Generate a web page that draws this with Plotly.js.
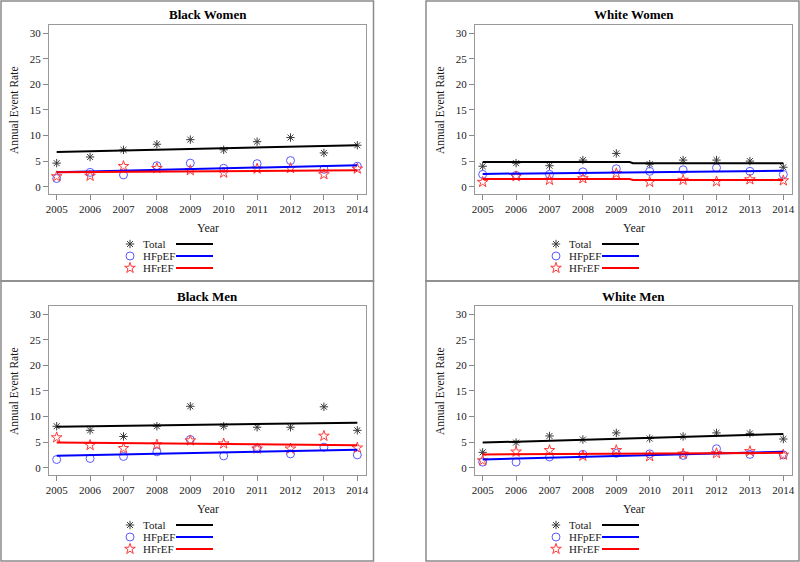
<!DOCTYPE html>
<html>
<head>
<meta charset="utf-8">
<script src="https://cdn.plot.ly/plotly-3.0.1.min.js"></script>
<style>html,body{margin:0;padding:0;background:#fff;}#chart{width:800px;height:562px;}</style>
</head>
<body>
<div id="chart"></div>
<script>
// ---- Data ----
const years = [2005, 2006, 2007, 2008, 2009, 2010, 2011, 2012, 2013, 2014];
const panelTitles = ["Black Women", "White Women", "Black Men", "White Men"];
const seriesNames = ["Total", "HFpEF", "HFrEF"];

const bwTotal = [4.6, 5.8, 7.2, 8.3, 9.2, 7.2, 8.8, 9.6, 6.6, 8.1];
const bwHFpEF = [1.6, 2.8, 2.3, 4.1, 4.6, 3.6, 4.5, 5.1, 3.4, 4.0];
const bwHFrEF = [2.0, 2.1, 4.0, 3.6, 3.2, 2.7, 3.5, 3.6, 2.4, 3.5];
const bwFitYears = [2005, 2014];
const bwTotalFit = [6.8, 8.1];
const bwHFpEFFit = [2.8, 4.2];
const bwHFrEFFit = [2.8, 3.2];

const wwTotal = [4.0, 4.6, 4.1, 5.2, 6.5, 4.4, 5.2, 5.2, 5.0, 3.8];
const wwHFpEF = [2.4, 2.2, 2.4, 2.9, 3.5, 3.0, 3.3, 3.7, 3.0, 2.4];
const wwHFrEF = [0.9, 2.0, 1.3, 1.6, 2.6, 0.9, 1.3, 1.0, 1.4, 1.2];
const wwFitYears = [2005, 2009.4, 2009.5, 2014];
const wwTotalFit = [4.8, 4.8, 4.6, 4.6];
const wwHFpEFFit = [2.5, 2.8, 2.8, 3.1];
const wwHFrEFFit = [1.5, 1.5, 1.3, 1.3];

const bmTotal = [8.1, 7.3, 6.1, 8.1, 12.0, 8.1, 7.9, 7.9, 11.9, 7.3];
const bmHFpEF = [1.6, 1.8, 2.2, 3.1, 5.5, 2.3, 3.7, 2.7, 4.0, 2.5];
const bmHFrEF = [5.9, 4.4, 3.8, 4.5, 5.3, 4.7, 3.7, 3.7, 6.2, 3.9];
const bmFitYears = [2005, 2014];
const bmTotalFit = [8.0, 8.8];
const bmHFpEFFit = [2.35, 3.5];
const bmHFrEFFit = [4.9, 4.4];

const wmTotal = [3.0, 4.9, 6.2, 5.5, 6.8, 5.7, 6.1, 6.8, 6.7, 5.6];
const wmHFpEF = [1.1, 1.1, 2.1, 2.6, 2.8, 2.7, 2.4, 3.7, 2.6, 2.5];
const wmHFrEF = [1.4, 3.1, 3.4, 2.3, 3.4, 2.2, 2.7, 2.8, 3.2, 2.5];
const wmFitYears = [2005, 2014];
const wmTotalFit = [4.9, 6.6];
const wmHFpEFFit = [1.6, 3.1];
const wmHFrEFFit = [2.6, 2.9];

const yTicks = [0, 5, 10, 15, 20, 25, 30];

// ---- Styles / layout ----
const W = 800, H = 562;
const FONT = "Liberation Serif, Times New Roman, serif";
const TXT = "#1a1a1a";
const markerStyles = [
  {symbol: "asterisk-open", size: 7, line: {color: "#3a3a3a", width: 1}, color: "#3a3a3a"},
  {symbol: "circle-open", size: 8, line: {color: "#5a5aff", width: 1}, color: "#5a5aff"},
  {symbol: "star-open", size: 8, line: {color: "#ff3a3a", width: 1}, color: "#ff3a3a"}
];
const lineColors = ["#000000", "#0000ff", "#ff0000"];

const panels = [
  {pts: [bwTotal, bwHFpEF, bwHFrEF], fx: bwFitYears, fits: [bwTotalFit, bwHFpEFFit, bwHFrEFFit], dx: 0, dy: 0},
  {pts: [wwTotal, wwHFpEF, wwHFrEF], fx: wwFitYears, fits: [wwTotalFit, wwHFpEFFit, wwHFrEFFit], dx: 426, dy: 0},
  {pts: [bmTotal, bmHFpEF, bmHFrEF], fx: bmFitYears, fits: [bmTotalFit, bmHFpEFFit, bmHFrEFFit], dx: 0, dy: 281},
  {pts: [wmTotal, wmHFpEF, wmHFrEF], fx: wmFitYears, fits: [wmTotalFit, wmHFpEFFit, wmHFrEFFit], dx: 426, dy: 281}
];

// frame of plot area (panel-local px)
const FL = 49, FR = 366, FT = 25, FB = 194;
const px = x => x / W;
const py = y => 1 - y / H;

const traces = [];
const layout = {
  width: W, height: H,
  margin: {l: 0, r: 0, t: 0, b: 0},
  paper_bgcolor: "#ffffff",
  plot_bgcolor: "rgba(0,0,0,0)",
  showlegend: false,
  font: {family: FONT, color: TXT, size: 11},
  annotations: [],
  shapes: []
};

panels.forEach((p, i) => {
  const n = i + 1;
  const xa = "xaxis" + (n === 1 ? "" : n), ya = "yaxis" + (n === 1 ? "" : n);
  const xr = "x" + (n === 1 ? "" : n), yr = "y" + (n === 1 ? "" : n);
  layout[xa] = {
    domain: [px(FL + p.dx), px(FR + p.dx)],
    anchor: yr,
    range: [2004.77, 2014.26],
    tickmode: "array", tickvals: years, ticktext: years.map(String),
    ticks: "outside", ticklen: 5, tickcolor: "#888", tickwidth: 1,
    showline: true, mirror: true, linecolor: "#999", linewidth: 1,
    showgrid: false, zeroline: false,
    tickfont: {family: FONT, size: 11, color: TXT}
  };
  layout[ya] = {
    domain: [py(FB + p.dy), py(FT + p.dy)],
    anchor: xr,
    range: [-1.43, 31.6],
    tickmode: "array", tickvals: yTicks,
    ticks: "outside", ticklen: 5, tickcolor: "#888", tickwidth: 1,
    showline: true, mirror: true, linecolor: "#999", linewidth: 1,
    showgrid: false, zeroline: false,
    tickfont: {family: FONT, size: 11, color: TXT}
  };
  // scatter markers
  p.pts.forEach((vals, s) => {
    traces.push({
      type: "scatter", mode: "markers", x: years, y: vals, xaxis: xr, yaxis: yr,
      name: seriesNames[s], marker: markerStyles[s], hoverinfo: "x+y+name"
    });
  });
  // fit lines
  p.fits.forEach((vals, s) => {
    traces.push({
      type: "scatter", mode: "lines", x: p.fx, y: vals, xaxis: xr, yaxis: yr,
      name: seriesNames[s] + " trend", line: {color: lineColors[s], width: 2}, hoverinfo: "skip"
    });
  });
  // title
  layout.annotations.push({
    text: "<b>" + panelTitles[i] + "</b>", xref: "paper", yref: "paper",
    x: px((FL + FR) / 2 + p.dx), y: py(15 + p.dy), xanchor: "center", yanchor: "middle",
    showarrow: false, font: {family: FONT, size: 13, color: "#000"}
  });
  // axis titles
  layout.annotations.push({
    text: "Annual Event Rate", xref: "paper", yref: "paper",
    x: px(14 + p.dx), y: py(110 + p.dy), xanchor: "center", yanchor: "middle",
    textangle: -90, showarrow: false, font: {family: FONT, size: 11.5, color: TXT}
  });
  layout.annotations.push({
    text: "Year", xref: "paper", yref: "paper",
    x: px((FL + FR) / 2 + p.dx), y: py(228 + p.dy), xanchor: "center", yanchor: "middle",
    showarrow: false, font: {family: FONT, size: 12, color: TXT}
  });
  // custom legend
  const rows = [244, 256, 268];
  seriesNames.forEach((nm, s) => {
    layout.annotations.push({
      text: nm, xref: "x5", yref: "y5",
      x: 141 + p.dx, y: rows[s] + p.dy, xanchor: "left", yanchor: "middle",
      showarrow: false, font: {family: FONT, size: 11, color: TXT}
    });
    layout.shapes.push({
      type: "line", xref: "x5", yref: "y5",
      x0: 176 + p.dx, x1: 213 + p.dx, y0: rows[s] + p.dy, y1: rows[s] + p.dy,
      line: {color: lineColors[s], width: 2}
    });
    traces.push({
      type: "scatter", mode: "markers", x: [130 + p.dx], y: [rows[s] + p.dy],
      xaxis: "x5", yaxis: "y5", marker: markerStyles[s], hoverinfo: "skip", name: nm + " key"
    });
  });
});

// overlay pixel axis for legend keys
layout.xaxis5 = {domain: [0, 1], range: [0, W], visible: false, fixedrange: true, anchor: "y5"};
layout.yaxis5 = {domain: [0, 1], range: [H, 0], visible: false, fixedrange: true, anchor: "x5"};

// panel borders
const bc = "#8a8a8a";
[[1, 1, 373.5, 281], [426, 1, 799, 281], [1, 281, 373.5, 561], [426, 281, 799, 561]].forEach(b => {
  layout.shapes.push({
    type: "rect", xref: "x5", yref: "y5", x0: b[0], y0: b[1], x1: b[2], y1: b[3],
    line: {color: bc, width: 1.5}, fillcolor: "rgba(0,0,0,0)", layer: "below"
  });
});

Plotly.newPlot("chart", traces, layout, {staticPlot: true, displayModeBar: false});
</script>
</body>
</html>
